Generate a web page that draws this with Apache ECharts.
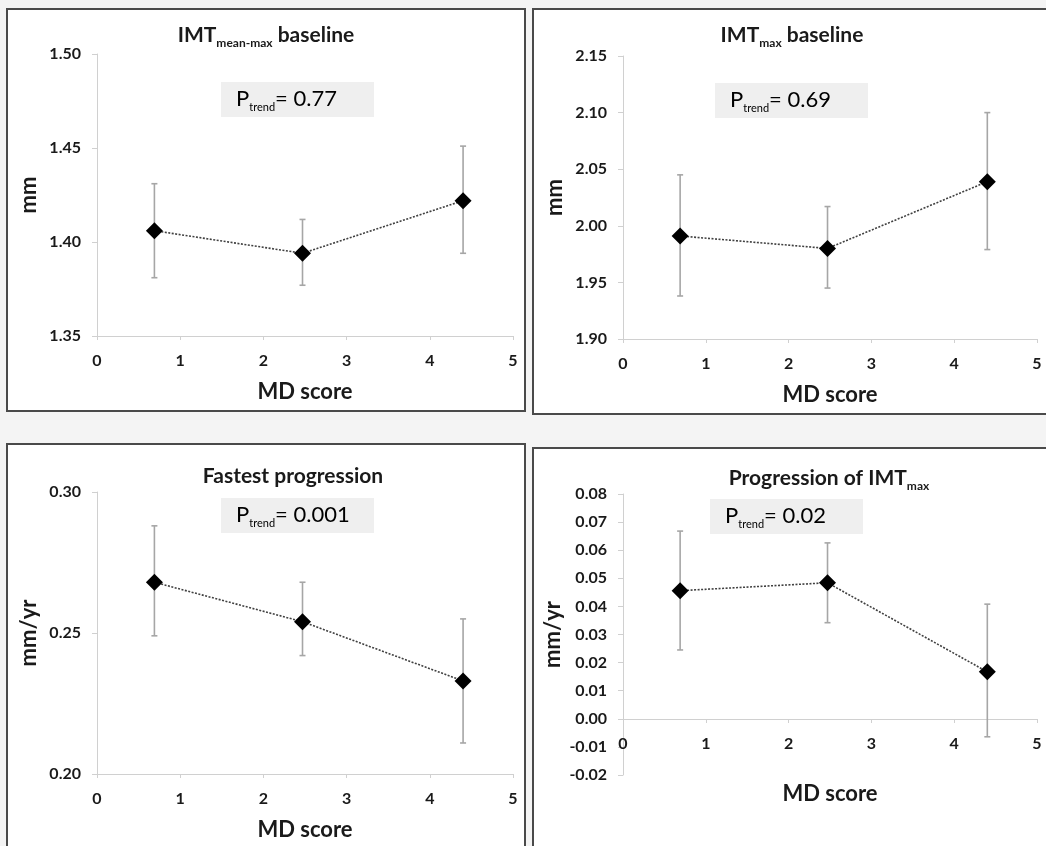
<!DOCTYPE html>
<html>
<head>
<meta charset="utf-8">
<script src="https://cdn.jsdelivr.net/npm/echarts@6/dist/echarts.min.js"></script>
<style>
html,body{margin:0;padding:0;background:#f4f4f4;}
#chart{width:1046px;height:846px;}
</style>
</head>
<body>
<div id="chart"></div>
<script>
// ---- data ----
const mdScore = [0.69, 2.47, 4.40];

const p1Mean = [1.406, 1.394, 1.422];
const p1Lo   = [1.381, 1.377, 1.394];
const p1Hi   = [1.431, 1.412, 1.451];

const p2Mean = [1.991, 1.980, 2.039];
const p2Lo   = [1.938, 1.945, 1.979];
const p2Hi   = [2.045, 2.017, 2.100];

const p3Mean = [0.268, 0.254, 0.233];
const p3Lo   = [0.249, 0.242, 0.211];
const p3Hi   = [0.288, 0.268, 0.255];

const p4Mean = [0.0456, 0.0484, 0.0167];
const p4Lo   = [0.0245, 0.0342, -0.0064];
const p4Hi   = [0.0668, 0.0626, 0.0408];

const panelTitles = [
  ['IMT', 'mean-max', ' baseline'],
  ['IMT', 'max', ' baseline'],
  ['Fastest progression', '', ''],
  ['Progression of IMT', 'max', '']
];
const pTrend = ['0.77', '0.69', '0.001', '0.02'];
const yUnits = ['mm', 'mm', 'mm/yr', 'mm/yr'];
const xName = 'MD score';
const yRanges = [[1.35, 1.50, 0.05], [1.90, 2.15, 0.05], [0.20, 0.30, 0.05], [-0.02, 0.08, 0.01]];

const means = [p1Mean, p2Mean, p3Mean, p4Mean];
const los = [p1Lo, p2Lo, p3Lo, p4Lo];
const his = [p1Hi, p2Hi, p3Hi, p4Hi];

// ---- layout ----
const FONT = 'Lato, "Open Sans", sans-serif';
const grids = [
  {left: 97, top: 54, width: 416, height: 282},
  {left: 623, top: 56, width: 414, height: 283},
  {left: 97, top: 492, width: 416, height: 282},
  {left: 623, top: 494, width: 414, height: 281}
];
const titlePos = [[266, 20], [792, 20], [293, 461], [829, 463]];
const boxPos = [[221, 82], [715, 83], [221, 498], [710, 499]];
const xNameGap = [45, 45, 45, 64];
const xOffset = [0, 0, 0, -56];

const chart = echarts.init(document.getElementById('chart'));

const xAxes = [], yAxes = [], series = [], titles = [];
grids.forEach((g, i) => {
  xAxes.push({
    type: 'value', gridIndex: i, min: 0, max: 5, interval: 1,
    offset: xOffset[i],
    name: xName, nameLocation: 'middle', nameGap: xNameGap[i],
    nameTextStyle: {fontFamily: FONT, fontWeight: 'bold', fontSize: 22, color: '#1a1a1a'},
    axisLine: {show: true, onZero: false, lineStyle: {color: '#d0d0d0', width: 1}},
    axisTick: {show: true, length: 4, inside: false, lineStyle: {color: '#d0d0d0'}},
    axisLabel: {fontFamily: FONT, fontWeight: 'bold', fontSize: 16, color: '#1a1a1a', margin: 17},
    splitLine: {show: false}
  });
  yAxes.push({
    type: 'value', gridIndex: i, min: yRanges[i][0], max: yRanges[i][1], interval: yRanges[i][2],
    name: yUnits[i], nameLocation: 'middle', nameGap: i === 3 ? 59 : 57,
    nameTextStyle: {fontFamily: FONT, fontWeight: 'bold', fontSize: 22, color: '#1a1a1a'},
    axisLine: {show: true, onZero: false, lineStyle: {color: '#d0d0d0', width: 1}},
    axisTick: {show: true, length: 5, inside: false, lineStyle: {color: '#d0d0d0'}},
    axisLabel: {fontFamily: FONT, fontWeight: 'bold', fontSize: 16, color: '#1a1a1a', margin: 16,
      formatter: v => v.toFixed(2)},
    splitLine: {show: false}
  });
  const t = panelTitles[i];
  let txt = '{a|' + t[0] + '}';
  if (t[1]) txt += '{s|' + t[1] + '}';
  if (t[2]) txt += '{a|' + t[2] + '}';
  titles.push({
    text: txt, left: titlePos[i][0], top: titlePos[i][1], textAlign: 'center',
    padding: 0,
    textStyle: {
      rich: {
        a: {fontFamily: FONT, fontWeight: 'bold', fontSize: 21, color: '#1a1a1a', lineHeight: 26, verticalAlign: 'bottom'},
        s: {fontFamily: FONT, fontWeight: 'bold', fontSize: 12, color: '#1a1a1a', lineHeight: 14, verticalAlign: 'bottom', padding: [0, 0, -3, 0]}
      }
    }
  });
  series.push({
    type: 'custom', xAxisIndex: i, yAxisIndex: i, z: 2,
    data: mdScore.map((x, k) => [x, los[i][k], his[i][k]]),
    encode: {x: 0, y: [1, 2]},
    renderItem: (params, api) => {
      const x = api.value(0);
      const top = api.coord([x, api.value(2)]);
      const bot = api.coord([x, api.value(1)]);
      const st = {stroke: '#a6a6a6', lineWidth: 1.6};
      const c = 3;
      return {type: 'group', children: [
        {type: 'line', shape: {x1: top[0], y1: top[1], x2: bot[0], y2: bot[1]}, style: st},
        {type: 'line', shape: {x1: top[0] - c, y1: top[1], x2: top[0] + c, y2: top[1]}, style: st},
        {type: 'line', shape: {x1: bot[0] - c, y1: bot[1], x2: bot[0] + c, y2: bot[1]}, style: st}
      ]};
    }
  });
  series.push({
    type: 'line', xAxisIndex: i, yAxisIndex: i, z: 4,
    data: mdScore.map((x, k) => [x, means[i][k]]),
    symbol: 'diamond', symbolSize: 17,
    itemStyle: {color: '#000'},
    lineStyle: {color: '#404040', width: 1.6, type: [2, 1.5]},
    animation: false
  });
});

const graphic = [
  {type: 'rect', z: -10, shape: {x: 7, y: 9, width: 518, height: 402}, style: {fill: '#fff', stroke: '#4a4a4a', lineWidth: 2}},
  {type: 'rect', z: -10, shape: {x: 533, y: 9, width: 530, height: 405}, style: {fill: '#fff', stroke: '#4a4a4a', lineWidth: 2}},
  {type: 'rect', z: -10, shape: {x: 7, y: 444, width: 518, height: 420}, style: {fill: '#fff', stroke: '#4a4a4a', lineWidth: 2}},
  {type: 'rect', z: -10, shape: {x: 533, y: 448, width: 530, height: 420}, style: {fill: '#fff', stroke: '#4a4a4a', lineWidth: 2}}
];
boxPos.forEach((b, i) => {
  graphic.push({type: 'rect', z: 1, shape: {x: b[0], y: b[1], width: 153, height: 35}, style: {fill: '#efefef'}});
  graphic.push({type: 'text', z: 2, x: b[0] + 15, y: b[1] + 3,
    style: {
      text: '{p|P}{s|trend}{p|= ' + pTrend[i] + '}',
      rich: {
        p: {fontFamily: FONT, fontSize: 22, color: '#222', lineHeight: 25, verticalAlign: 'bottom'},
        s: {fontFamily: FONT, fontSize: 11, color: '#222', lineHeight: 12, verticalAlign: 'bottom', padding: [0, 0, -3, 0]}
      }
    }});
});

chart.setOption({
  animation: false,
  backgroundColor: '#f4f4f4',
  title: titles,
  grid: grids,
  xAxis: xAxes,
  yAxis: yAxes,
  series: series,
  graphic: graphic
});
</script>
</body>
</html>
